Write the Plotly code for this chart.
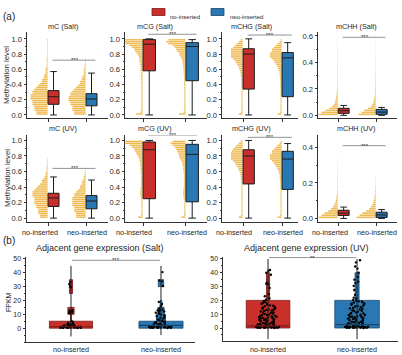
import plotly.graph_objects as go

# ---------------- data ----------------
groups = ["no-inserted", "neo-inserted"]
panel_titles = ["mC (Salt)", "mCG (Salt)", "mCHG (Salt)", "mCHH (Salt)",
                "mC (UV)", "mCG (UV)", "mCHG (UV)", "mCHH (UV)"]

# box statistics per panel (order of panel_titles)
box_low_no = [0.0, 0.0, 0.0, 0.0, 0.0, 0.0, 0.0, 0.0]
box_q1_no = [0.14, 0.58, 0.34, 0.015, 0.15, 0.25, 0.44, 0.017]
box_med_no = [0.24, 0.93, 0.80, 0.035, 0.26, 0.88, 0.80, 0.030]
box_q3_no = [0.32, 0.99, 0.87, 0.053, 0.32, 0.98, 0.88, 0.046]
box_high_no = [0.57, 1.00, 1.00, 0.075, 0.53, 1.00, 1.00, 0.064]
box_low_neo = [0.0, 0.0, 0.0, 0.0, 0.0, 0.0, 0.0, 0.0]
box_q1_neo = [0.12, 0.45, 0.24, 0.008, 0.12, 0.21, 0.37, 0.006]
box_med_neo = [0.21, 0.90, 0.75, 0.025, 0.22, 0.82, 0.76, 0.020]
box_q3_neo = [0.28, 0.95, 0.82, 0.045, 0.29, 0.95, 0.86, 0.035]
box_high_neo = [0.55, 0.99, 0.95, 0.060, 0.49, 1.00, 0.96, 0.050]
sig_level = [0.72, 1.06, 1.05, 0.59, 0.64, 1.07, 1.04, 0.41]
sig_text = ["***", "***", "***", "***", "***", "***", "***", "***"]

# histogram of individual values (relative counts per bin, from 0 upward)
cloud_bin = [0.025, 0.025, 0.025, 0.015, 0.025, 0.025, 0.025, 0.012]
cloud_mC_salt_no = [6, 6, 7, 7, 7, 8, 8, 8, 9, 9, 9, 8, 8, 7, 6, 5, 4, 3, 3, 2, 2, 1.5, 1, 1, 1, 0.5, 0.5, 0.5, 0.5, 0.5, 0.3, 0.3, 0.3, 0.3, 0.3, 0.3, 0.3, 0.3, 0.3, 0.3]
cloud_mC_salt_neo = [6, 6, 7, 7, 7, 8, 8, 9, 9, 9, 8, 8, 7, 6, 5, 4, 3, 3, 2, 2, 1.5, 1, 1, 1, 0.8, 0.5, 0.5, 0.3, 0.3, 0.3, 0, 0, 0, 0, 0, 0, 0, 0, 0, 0]
cloud_mCG_salt_no = [3, 1, 0.7, 0.6, 0.6, 0.6, 0.6, 0.6, 0.6, 0.6, 0.6, 0.6, 0.6, 0.6, 0.6, 0.6, 0.7, 0.7, 0.7, 0.7, 0.8, 0.8, 0.8, 1, 1, 1, 1.2, 1.2, 1.5, 1.5, 1.8, 2.2, 2.8, 3.5, 4, 5, 6, 8, 10, 10]
cloud_mCG_salt_neo = [3, 1, 0.7, 0.6, 0.6, 0.6, 0.6, 0.6, 0.6, 0.6, 0.6, 0.6, 0.6, 0.6, 0.6, 0.6, 0.7, 0.7, 0.7, 0.7, 0.8, 0.8, 1, 1, 1, 1.2, 1.2, 1.5, 1.5, 1.8, 2.2, 2.8, 3, 4, 4.5, 5, 6, 8, 9, 8]
cloud_mCHG_salt_no = [2, 0.8, 0.6, 0.6, 0.6, 0.6, 0.6, 0.6, 0.6, 0.6, 0.6, 0.6, 0.6, 0.6, 0.6, 0.7, 0.7, 0.7, 0.8, 0.8, 1, 1, 1.2, 1.5, 1.8, 2.2, 2.8, 3.5, 4, 5, 6, 6, 6, 6, 6, 5, 4, 3, 2, 1]
cloud_mCHG_salt_neo = [2, 0.8, 0.6, 0.6, 0.6, 0.6, 0.6, 0.6, 0.6, 0.6, 0.6, 0.6, 0.6, 0.6, 0.6, 0.7, 0.7, 0.7, 0.8, 0.8, 1, 1, 1.2, 1.5, 1.8, 2.2, 2.8, 3.5, 4, 5, 6, 6, 6, 5, 5, 4, 3, 2, 1, 0.5]
cloud_mCHH_salt_no = [10, 8.5, 6.5, 4.5, 3, 2, 1.5, 1.2, 1, 0.8, 0.6, 0.5, 0.4, 0.4, 0.3, 0.3, 0.3, 0.25, 0.25, 0.25, 0.2, 0.2, 0.2, 0.2, 0.2, 0.2, 0.2, 0.2, 0.15, 0.15, 0.15, 0.15, 0.15, 0.15, 0.15, 0.1, 0.1, 0.1, 0.1, 0.1]
cloud_mCHH_salt_neo = [9, 7.5, 6, 4, 2.5, 1.8, 1.3, 1, 0.8, 0.6, 0.5, 0.4, 0.4, 0.3, 0.3, 0.3, 0.25, 0.25, 0.2, 0.2, 0.2, 0.2, 0.2, 0.15, 0.15, 0.15, 0.15, 0.15, 0.15, 0.15, 0.1, 0.1, 0.1, 0.1, 0.1, 0.1, 0.1, 0.1, 0.1, 0.1]
cloud_mC_uv_no = [4, 4, 5, 5, 5, 6, 6, 7, 7, 7, 7, 8, 8, 8, 7, 6, 5, 4, 3, 3, 2, 1.5, 1, 1, 0.5, 0.5, 0.5, 0.3, 0.3, 0.3, 0.3, 0, 0, 0, 0, 0, 0, 0, 0, 0]
cloud_mC_uv_neo = [5, 5, 5, 6, 6, 6, 7, 7, 7, 7, 7, 6, 6, 5, 4, 3, 3, 2, 2, 1.5, 1, 1, 0.5, 0.5, 0.3, 0, 0, 0, 0, 0, 0, 0, 0, 0, 0, 0, 0, 0, 0, 0]
cloud_mCG_uv_no = [2, 0.8, 0.6, 0.6, 0.6, 0.6, 0.6, 0.6, 0.6, 0.6, 1, 1, 1.2, 1.2, 1, 1, 0.8, 0.8, 0.8, 0.8, 0.8, 0.8, 0.8, 1, 1, 1, 1, 1.2, 1.2, 1.5, 1.5, 2, 2.5, 3, 3.5, 4, 5, 6, 8, 8]
cloud_mCG_uv_neo = [2, 0.8, 0.6, 0.6, 0.6, 0.6, 0.6, 0.6, 0.6, 0.6, 1, 1, 1.2, 1.2, 1, 1, 0.8, 0.8, 0.8, 0.8, 0.8, 0.8, 0.8, 1, 1, 1.2, 1.2, 1.5, 1.5, 2, 2.5, 3, 3, 3.5, 4, 4.5, 5, 6, 7, 6]
cloud_mCHG_uv_no = [2, 0.8, 0.6, 0.6, 0.6, 0.6, 0.6, 0.6, 0.6, 0.6, 0.6, 0.6, 0.6, 0.6, 0.6, 0.7, 0.7, 0.7, 0.8, 0.8, 1, 1, 1.2, 1.5, 1.8, 2.2, 2.8, 3.5, 4, 5, 6, 6, 6, 6, 5.5, 5, 4, 3, 2, 1]
cloud_mCHG_uv_neo = [2, 0.8, 0.6, 0.6, 0.6, 0.6, 0.6, 0.6, 0.6, 0.6, 0.6, 0.6, 0.6, 0.6, 0.6, 0.7, 0.7, 0.7, 0.8, 0.8, 1, 1, 1.2, 1.5, 1.8, 2.2, 2.8, 3.5, 4, 5, 6, 6, 6, 5, 5, 4, 3, 2, 1, 0.5]
cloud_mCHH_uv_no = [10, 8.5, 7, 5, 3.5, 2.5, 1.8, 1.3, 1, 0.8, 0.6, 0.5, 0.4, 0.3, 0.3, 0.3, 0.25, 0.2, 0.2, 0.2, 0.2, 0.15, 0.15, 0.15, 0.15, 0.1, 0.1, 0.1, 0.1, 0, 0, 0, 0, 0, 0, 0, 0, 0, 0, 0]
cloud_mCHH_uv_neo = [10, 8.5, 7, 5, 3.5, 2.5, 1.8, 1.3, 1, 0.8, 0.6, 0.5, 0.4, 0.3, 0.3, 0.25, 0.2, 0.15, 0.15, 0.1, 0, 0, 0, 0, 0, 0, 0, 0, 0, 0, 0, 0, 0, 0, 0, 0, 0, 0, 0, 0]

# panel (b): FPKM of adjacent genes
fpkm_titles = ["Adjacent gene expression (Salt)", "Adjacent gene expression (UV)"]
fpkm_sig = ["***", "**"]
fpkm_sig_level = [49, 51]
salt_bin_edges = [0, 5, 10, 15, 20, 25, 30]
salt_bin_size = 5
salt_hist_no = [48, 1, 7, 0, 0, 3.5, 3.5]
salt_hist_neo = [49, 10, 7, 2, 0, 0, 6]
uv_bin_edges = [0, 20]
uv_bin_size = 20
uv_hist_no = [49, 3.5]
uv_hist_neo = [50, 4.5]
salt_range_no = [-6, 45]
salt_range_neo = [-5, 45]
uv_range_no = [-8, 50]
uv_range_neo = [-8, 50]
salt_median = [1.0, 2.0]
uv_median = [1.5, 2.5]
salt_pts_no = [0.1, 0.2, 0.3, 0.3, 0.4, 0.5, 0.5, 0.6, 0.7, 0.8, 0.9, 1.0, 1.1, 1.2, 1.3, 1.5, 1.6, 1.8, 2.0, 2.2, 2.5, 2.8, 3.1, 3.5, 3.9, 4.4, 5.0,
               0.2, 0.4, 0.7, 1.0, 1.4, 2.0, 2.7, 10.8, 11.2, 11.5, 11.9, 12.3, 12.6, 13.1, 29.5, 30.2, 31.8, 33.4]
salt_pts_neo = [0.1, 0.2, 0.2, 0.3, 0.4, 0.5, 0.6, 0.7, 0.8, 0.9, 1.0, 1.1, 1.3, 1.5, 1.7, 1.9, 2.1, 2.4, 2.7, 3.0, 3.3, 3.7, 4.1, 4.6,
                0.3, 0.6, 0.9, 1.2, 1.6, 2.2, 2.9, 3.6, 4.3, 5.2, 5.8, 6.3, 6.9, 7.4, 8.0, 8.6, 9.2, 9.8, 10.5, 11.2, 12.0, 12.8,
                13.5, 14.2, 13.0, 11.8, 16.0, 17.5, 19.0, 30.5, 33.8, 34.5, 40.5]
uv_pts_no = [0.05, 0.1, 0.15, 0.2, 0.25, 0.3, 0.35, 0.4, 0.5, 0.55, 0.6, 0.7, 0.8, 0.9, 1.0, 1.1, 1.2, 1.3, 1.5, 1.6, 1.8, 2.0, 2.2,
             2.4, 2.6, 2.9, 3.1, 3.4, 3.7, 4.0, 4.3, 4.6, 4.9, 0.3, 0.6, 0.9, 1.4, 1.9, 2.5, 3.2,
             5.3, 5.7, 6.1, 6.5, 6.9, 7.3, 7.7, 8.1, 8.5, 8.9, 9.3, 9.7, 5.5, 6.3, 7.1, 7.9, 8.7, 9.5, 6.0, 8.0,
             10.2, 10.8, 11.3, 11.9, 12.4, 13.0, 13.6, 14.1, 14.7, 15.3, 15.8, 16.4, 17.0, 17.6, 18.2, 18.8, 19.4,
             11.0, 12.7, 14.4, 16.1, 17.8, 19.6, 10.5, 13.3,
             20.5, 21.5, 23.0, 24.5, 29.0, 31.5, 32.0, 33.0, 38.5, 40.0, 41.5, 42.0]
uv_pts_neo = [0.05, 0.1, 0.15, 0.2, 0.25, 0.3, 0.35, 0.4, 0.5, 0.6, 0.7, 0.8, 0.9, 1.0, 1.1, 1.2, 1.4, 1.6, 1.8, 2.0, 2.2, 2.5,
              2.8, 3.1, 3.4, 3.8, 4.2, 4.6, 0.2, 0.5, 0.8, 1.3, 1.7, 2.3, 3.0, 3.6, 4.4,
              5.2, 5.6, 6.0, 6.4, 6.8, 7.2, 7.6, 8.0, 8.4, 8.8, 9.2, 9.6, 5.4, 6.2, 7.0, 7.8, 8.6, 9.4,
              10.1, 10.6, 11.2, 11.7, 12.3, 12.8, 13.4, 14.0, 14.5, 15.1, 15.6, 16.2, 16.8, 17.3, 17.9, 18.5, 19.0, 19.6,
              10.9, 12.5, 14.2, 15.9, 17.6, 19.3,
              20.4, 21.2, 22.0, 24.0, 27.5, 30.5, 32.5, 33.5, 35.0, 37.0, 40.0, 43.0, 44.5, 47.5, 49.0]

# ---------------- styling ----------------
W, H = 402, 355
RED = "#C9302C"
BLUE = "#2A78B3"
RED_DARK = "#7a1a18"
BLUE_DARK = "#16466b"
ORANGE = "rgba(233,166,32,0.78)"
LINE = "#1c1c1c"
AXC = "#333333"
TXT = "#262626"
FONT = "Liberation Sans, Arial, sans-serif"
colors = [RED, BLUE]
dark = [RED_DARK, BLUE_DARK]


def xd(a, b):
    return [a / W, b / W]


def yd(top, bottom):
    return [1 - bottom / H, 1 - top / H]


col_px = [(27, 108), (125, 207), (222, 298), (318, 397)]
col_title_px = [63, 155, 251, 356]
col_xrange = [[-0.553, 1.579], [-0.42, 1.49], [-0.54, 1.41], [-0.53, 1.55]]
row_px = [(32, 118), (135, 222)]
label_shift = [-0.22, 1.03]
panel_yrange = [[-0.04, 1.09], [-0.04, 1.09], [-0.04, 1.09], [-0.02, 0.63],
                [-0.05, 1.07], [-0.05, 1.07], [-0.05, 1.07], [-0.02, 0.47]]
panel_yticks = [[0, 0.2, 0.4, 0.6, 0.8, 1.0]] * 3 + [[0, 0.2, 0.4, 0.6]] + \
               [[0, 0.2, 0.4, 0.6, 0.8, 1.0]] * 3 + [[0, 0.2, 0.4]]

clouds_no = [cloud_mC_salt_no, cloud_mCG_salt_no, cloud_mCHG_salt_no, cloud_mCHH_salt_no,
             cloud_mC_uv_no, cloud_mCG_uv_no, cloud_mCHG_uv_no, cloud_mCHH_uv_no]
clouds_neo = [cloud_mC_salt_neo, cloud_mCG_salt_neo, cloud_mCHG_salt_neo, cloud_mCHH_salt_neo,
              cloud_mC_uv_neo, cloud_mCG_uv_neo, cloud_mCHG_uv_neo, cloud_mCHH_uv_neo]

fig = go.Figure()
layout = dict(width=W, height=H, margin=dict(l=0, r=0, t=0, b=0, autoexpand=False),
              paper_bgcolor="white", plot_bgcolor="white",
              showlegend=False, barmode="overlay", boxmode="overlay",
              font=dict(family=FONT, size=8, color=TXT))
shapes = []
annotations = []

BOX_OFF = 0.145
BOX_W = 0.29
CLOUD_SCALE = 0.05

for i in range(8):
    k = i + 1
    r, c = divmod(i, 4)
    xa, ya = f"x{k}", f"y{k}"
    stats = [
        (box_low_no[i], box_q1_no[i], box_med_no[i], box_q3_no[i], box_high_no[i]),
        (box_low_neo[i], box_q1_neo[i], box_med_neo[i], box_q3_neo[i], box_high_neo[i]),
    ]
    for g, cl in enumerate([clouds_no[i], clouds_neo[i]]):
        b = cloud_bin[i]
        ys = [(j + 0.5) * b for j in range(len(cl)) if cl[j] > 0]
        xs = [-v * CLOUD_SCALE for v in cl if v > 0]
        fig.add_trace(go.Bar(orientation="h", y=ys, x=xs, base=g - 0.01, width=b * 0.75,
                             marker=dict(color=ORANGE, line=dict(width=0)),
                             xaxis=xa, yaxis=ya, hoverinfo="skip"))
    for g in range(2):
        lo, q1, md, q3, hi = stats[g]
        fig.add_trace(go.Box(x=[g + BOX_OFF], q1=[q1], median=[md], q3=[q3],
                             lowerfence=[lo], upperfence=[hi], width=BOX_W,
                             fillcolor=colors[g], line=dict(color=LINE, width=1),
                             whiskerwidth=0.6, boxpoints=False,
                             xaxis=xa, yaxis=ya, hoverinfo="skip"))
    # significance
    shapes.append(dict(type="line", xref=xa, yref=ya, x0=0.12, x1=1.25,
                       y0=sig_level[i], y1=sig_level[i], line=dict(color="#777", width=0.8)))
    annotations.append(dict(xref=xa, yref=ya, x=0.7, y=sig_level[i], text=sig_text[i],
                            showarrow=False, yanchor="middle", yshift=0,
                            font=dict(size=6, color="#333")))
    x0, x1 = col_px[c]
    t, bt = row_px[r]
    layout[f"xaxis{k}"] = dict(domain=xd(x0, x1), anchor=ya, range=col_xrange[c],
                               tickvals=[0, 1], showticklabels=False, tickangle=0,
                               showline=True, linecolor=AXC, linewidth=1, ticks="outside",
                               ticklen=2.5, tickcolor=AXC, showgrid=False, zeroline=False,
                               fixedrange=True)
    layout[f"yaxis{k}"] = dict(domain=yd(t, bt), anchor=xa, range=panel_yrange[i],
                               tickvals=panel_yticks[i], tickformat=".1f",
                               showline=True, linecolor=AXC, linewidth=1, ticks="outside",
                               ticklen=2.5, tickcolor=AXC, showgrid=False, zeroline=False,
                               tickfont=dict(size=7.6, color=TXT),
                               minor=dict(ticks="outside", ticklen=1.5, tickcolor=AXC, dtick=0.1),
                               fixedrange=True)
    annotations.append(dict(xref="paper", yref="paper", x=col_title_px[c] / W,
                            y=1 - (26 if r == 0 else 128.5) / H, text=panel_titles[i],
                            showarrow=False, xanchor="center", yanchor="middle",
                            font=dict(size=7.2, color=TXT)))
    if r == 1:
        for g in range(2):
            annotations.append(dict(xref=xa, yref="paper", x=label_shift[g], y=1 - 232 / H,
                                    text=groups[g], showarrow=False, xanchor="center",
                                    yanchor="middle", font=dict(size=7.2, color=TXT)))

# ---------------- panel (b) ----------------
b_xpx = [(26, 195), (223, 398)]
b_ypx = [(257, 342), (257, 341)]
b_xrange = [[-0.5, 1.378], [-0.506, 1.46]]
b_yrange = [[-10, 51.4], [-9.4, 51.4]]
HIST_SCALE = 0.01
b_sets = [
    (salt_bin_edges, salt_bin_size, [salt_hist_no, salt_hist_neo], [salt_range_no, salt_range_neo],
     salt_median, [salt_pts_no, salt_pts_neo]),
    (uv_bin_edges, uv_bin_size, [uv_hist_no, uv_hist_neo], [uv_range_no, uv_range_neo],
     uv_median, [uv_pts_no, uv_pts_neo]),
]
for j in range(2):
    k = 9 + j
    xa, ya = f"x{k}", f"y{k}"
    edges, bsz, hists, ranges, meds, pts = b_sets[j]
    for g in range(2):
        h = hists[g]
        idx = [n for n in range(len(h)) if h[n] > 0]
        fig.add_trace(go.Bar(x=[g] * len(idx), y=[bsz] * len(idx), base=[edges[n] for n in idx],
                             width=[h[n] * HIST_SCALE for n in idx],
                             marker=dict(color=colors[g], line=dict(color=dark[g], width=0.8)),
                             xaxis=xa, yaxis=ya, hoverinfo="skip"))
        fig.add_trace(go.Scatter(x=[g, g], y=ranges[g], mode="lines",
                                 line=dict(color="#222", width=1), xaxis=xa, yaxis=ya,
                                 hoverinfo="skip"))
        wmax = max(h) * HIST_SCALE
        fig.add_trace(go.Scatter(x=[g - wmax / 2, g + wmax / 2], y=[meds[g], meds[g]], mode="lines",
                                 line=dict(color=dark[g], width=1.2), xaxis=xa, yaxis=ya,
                                 hoverinfo="skip"))
        fig.add_trace(go.Box(x=[g] * len(pts[g]), y=pts[g], boxpoints="all", jitter=1, pointpos=0,
                             width=0.28, fillcolor="rgba(0,0,0,0)",
                             line=dict(width=0, color="rgba(0,0,0,0)"),
                             marker=dict(color="black", size=2.4),
                             xaxis=xa, yaxis=ya, hoverinfo="skip"))
    shapes.append(dict(type="line", xref=xa, yref=ya, x0=0.01, x1=0.99,
                       y0=fpkm_sig_level[j], y1=fpkm_sig_level[j],
                       line=dict(color="#777", width=0.8)))
    annotations.append(dict(xref=xa, yref=ya, x=0.5, y=fpkm_sig_level[j], text=fpkm_sig[j],
                            showarrow=False, yanchor="middle", yshift=0,
                            font=dict(size=6, color="#333")))
    x0, x1 = b_xpx[j]
    t, bt = b_ypx[j]
    layout[f"xaxis{k}"] = dict(domain=xd(x0, x1), anchor=ya, range=b_xrange[j],
                               tickvals=[0, 1], showticklabels=False,
                               showline=True, linecolor=AXC, linewidth=1, ticks="",
                               showgrid=False, zeroline=False, fixedrange=True)
    for g in range(2):
        annotations.append(dict(xref=xa, yref="paper", x=g, y=1 - 349.5 / H,
                                text=groups[g], showarrow=False, xanchor="center",
                                yanchor="middle", font=dict(size=7.2, color=TXT)))
    layout[f"yaxis{k}"] = dict(domain=yd(t, bt), anchor=xa, range=b_yrange[j],
                               tickvals=[0, 10, 20, 30, 40, 50],
                               showline=True, linecolor=AXC, linewidth=1, ticks="outside",
                               ticklen=2.5, tickcolor=AXC, showgrid=False, zeroline=False,
                               tickfont=dict(size=7, color=TXT),
                               minor=dict(ticks="outside", ticklen=1.5, tickcolor=AXC, dtick=5),
                               fixedrange=True)
    annotations.append(dict(xref="paper", yref="paper", x=[100, 306][j] / W, y=1 - 248 / H,
                            text=fpkm_titles[j], showarrow=False, xanchor="center",
                            yanchor="middle", font=dict(size=9, color=TXT)))

# axis titles, panel labels, legend
annotations += [
    dict(xref="paper", yref="paper", x=7 / W, y=1 - 75 / H, text="Methylation level", textangle=-90,
         xanchor="center", yanchor="middle", showarrow=False, font=dict(size=7.8, color=TXT)),
    dict(xref="paper", yref="paper", x=7 / W, y=1 - 178 / H, text="Methylation level", textangle=-90,
         xanchor="center", yanchor="middle", showarrow=False, font=dict(size=7.8, color=TXT)),
    dict(xref="paper", yref="paper", x=8 / W, y=1 - 302 / H, text="FPKM", textangle=-90,
         xanchor="center", yanchor="middle", showarrow=False, font=dict(size=7, color=TXT)),
    dict(xref="paper", yref="paper", x=1 / W, y=1 - 9 / H, text="(a)", xanchor="left",
         showarrow=False, font=dict(size=10, color=TXT)),
    dict(xref="paper", yref="paper", x=1 / W, y=1 - 248 / H, text="(b)", xanchor="left",
         showarrow=False, font=dict(size=10, color=TXT)),
    dict(xref="paper", yref="paper", x=168 / W, y=1 - 12 / H, text=groups[0], xanchor="left",
         showarrow=False, font=dict(size=6, color=TXT)),
    dict(xref="paper", yref="paper", x=228 / W, y=1 - 12 / H, text=groups[1], xanchor="left",
         showarrow=False, font=dict(size=6, color=TXT)),
]
shapes += [
    dict(type="rect", xref="paper", yref="paper", x0=152 / W, x1=165 / W, y0=1 - 15.5 / H, y1=1 - 8.5 / H,
         fillcolor=RED, line=dict(color=RED_DARK, width=0.8)),
    dict(type="rect", xref="paper", yref="paper", x0=211 / W, x1=224 / W, y0=1 - 15.5 / H, y1=1 - 8.5 / H,
         fillcolor=BLUE, line=dict(color=BLUE_DARK, width=0.8)),
]
layout["shapes"] = shapes
layout["annotations"] = annotations
fig.update_layout(**layout)
fig.write_html("out.html", config={"displayModeBar": False},
               post_script="document.body.style.margin='0px';document.body.style.overflow='hidden';")
